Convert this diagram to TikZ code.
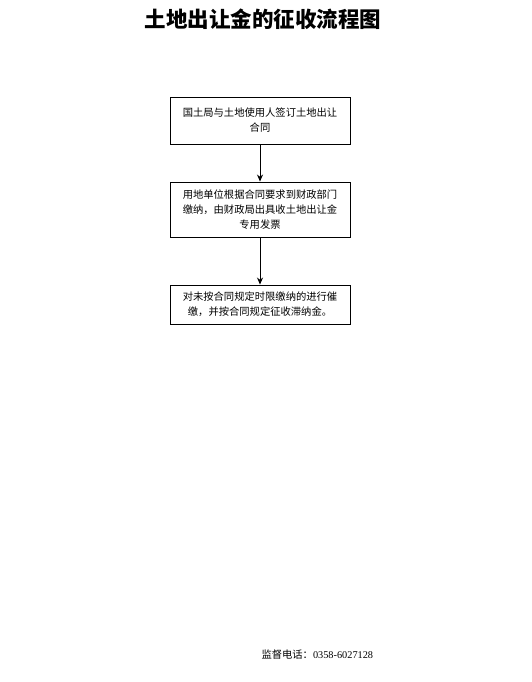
\documentclass[tikz,border=0pt]{standalone}
\usepackage{fontspec}
\setmainfont{Liberation Serif}
\newfontfamily\cjk{Noto Sans CJK SC}
\usetikzlibrary{arrows.meta}
\tikzset{
  box/.style={draw=black, line width=0.9pt, minimum width=180pt, align=center, inner sep=0pt,
    font=\cjk\fontsize{10.3}{15}\selectfont},
  arr/.style={draw=black, line width=0.8pt, -{Stealth[length=7pt,width=6pt]}},
  titletext/.style={font=\cjk\bfseries\fontsize{21.5}{24}\selectfont},
  foot/.style={font=\fontsize{10.3}{12}\selectfont, anchor=west}
}
\begin{document}
\begin{tikzpicture}[x=1pt,y=-1pt]
\useasboundingbox (0,0) rectangle (532,682);
\node[titletext] (title) at (263,19) {土地出让金的征收流程图};
\node[box, minimum height=47pt] (b1) at (260,120.5) {国土局与土地使用人签订土地出让\\合同};
\node[box, minimum height=55pt] (b2) at (260,209.5) {用地单位根据合同要求到财政部门\\缴纳，由财政局出具收土地出让金\\专用发票};
\node[box, minimum height=39pt] (b3) at (260,304.5) {对未按合同规定时限缴纳的进行催\\缴，并按合同规定征收滞纳金。};
\draw[arr] (b1) -- (b2);
\draw[arr] (b2) -- (b3);
\node[foot] (tel) at (258,655) {{\cjk 监督电话：}0358-6027128};
\end{tikzpicture}
\end{document}
